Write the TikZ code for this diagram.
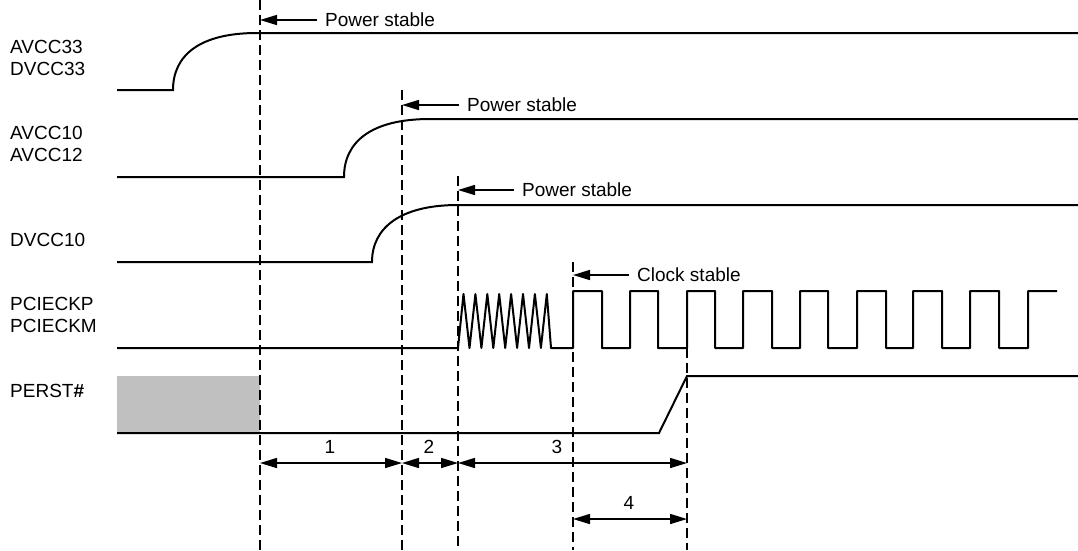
\documentclass[tikz,border=0pt]{standalone}
\usepackage{fontspec}
\setmainfont{Liberation Sans}
\usetikzlibrary{arrows.meta}
\definecolor{boxgrey}{RGB}{192,192,192}
\begin{document}
\begin{tikzpicture}[x=1pt,y=-1pt,
  sig/.style={line width=2pt, line join=miter},
  guide/.style={line width=1.3pt, dash pattern=on 10pt off 5pt},
  txt/.style={inner sep=0pt, font=\fontsize{19}{22}\selectfont},
  lbl/.style={txt, anchor=west, align=left},
  tip/.style={-{Triangle[length=17pt,width=10pt]}, line width=1.5pt},
  dim/.style={{Triangle[length=17pt,width=10pt]}-{Triangle[length=17pt,width=10pt]}, line width=1.5pt}]
\useasboundingbox (0,0) rectangle (1078,550);

% guide line end points
\coordinate (d1top) at (260,0);     \coordinate (d1bot) at (260,550);
\coordinate (d2top) at (402,90);    \coordinate (d2bot) at (402,550);
\coordinate (d3top) at (458,176);   \coordinate (d3bot) at (458,550);
\coordinate (d4top) at (573,262);   \coordinate (d4bot) at (573,550);
\coordinate (d5top) at (687,348);   \coordinate (d5bot) at (687,550);
\coordinate (row1) at (0,463);
\coordinate (row2) at (0,519);

% grey box
\fill[boxgrey] (117,376) rectangle (260,433);

% guides
\draw[guide] (d1top) -- (d1bot);
\draw[guide] (d2top) -- (d2bot);
\draw[guide] (d3top) -- (d3bot);
\draw[guide] (d4top) -- (d4bot);
\draw[guide] (d5top) -- (d5bot);

% signal names
\node[lbl] (s1) at (10,58) {AVCC33\\DVCC33};
\node[lbl] (s2) at (10,144) {AVCC10\\AVCC12};
\node[lbl] (s3) at (10,240) {DVCC10};
\node[lbl] (s4) at (10,315) {PCIECKP\\PCIECKM};
\node[lbl] (s5) at (10,391) {PERST\textbf{\#}};

% waveforms
\draw[sig] (117,90) -- (173,90) .. controls (173,55) and (200,33) .. (257,33) -- (1078,33);
\draw[sig] (117,177) -- (344,177) .. controls (344,142) and (371,119) .. (430,119) -- (1078,119);
\draw[sig] (117,262) -- (372,262) .. controls (372,228) and (400,205) .. (458,205) -- (1078,205);
\draw[sig, line join=round] (117,348) -- (458,348)
  -- (463.5,294) -- (469.5,348) -- (475.4,294) -- (481.4,348) -- (487.3,294) -- (493.3,348)
  -- (499.2,294) -- (505.2,348) -- (511.1,294) -- (517.1,348) -- (523.0,294) -- (529.0,348)
  -- (534.9,294) -- (540.9,348) -- (546.8,294) -- (551,348) -- (573,348)
  -- (573,291) -- (602,291) -- (602,348) -- (630,348) -- (630,291) -- (658,291) -- (658,348)
  -- (687,348) -- (687,291) -- (715,291) -- (715,348) -- (743,348) -- (743,291) -- (772,291)
  -- (772,348) -- (800,348) -- (800,291) -- (828,291) -- (828,348) -- (857,348) -- (857,291)
  -- (886,291) -- (886,348) -- (913,348) -- (913,291) -- (942,291) -- (942,348) -- (970,348)
  -- (970,291) -- (999,291) -- (999,348) -- (1028,348) -- (1028,291) -- (1057,291);
\draw[sig] (117,433) -- (659,433) -- (687,376) -- (1078,376);

% stable markers
\node[txt, anchor=west] (p1) at (325,20) {Power stable};
\node[txt, anchor=west] (p2) at (467,105) {Power stable};
\node[txt, anchor=west] (p3) at (522,190) {Power stable};
\node[txt, anchor=west] (c4) at (637,275) {Clock stable};
\draw[tip] ([xshift=-8pt]p1.west) -- (d1top |- p1.west);
\draw[tip] ([xshift=-8pt]p2.west) -- (d2top |- p2.west);
\draw[tip] ([xshift=-8pt]p3.west) -- (d3top |- p3.west);
\draw[tip] ([xshift=-8pt]c4.west) -- (d4top |- c4.west);

% intervals
\draw[dim] (d1top |- row1) -- (d2top |- row1);
\draw[dim] (d2top |- row1) -- (d3top |- row1);
\draw[dim] (d3top |- row1) -- (d5top |- row1);
\draw[dim] (d4top |- row2) -- (d5top |- row2);
\node[txt] (n1) at (330,447) {1};
\node[txt] (n2) at (429,447) {2};
\node[txt] (n3) at (557,447) {3};
\node[txt] (n4) at (629,503) {4};
\end{tikzpicture}
\end{document}
